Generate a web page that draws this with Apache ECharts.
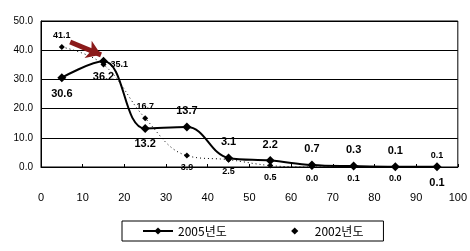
<!DOCTYPE html>
<html>
<head>
<meta charset="utf-8">
<script src="https://cdn.jsdelivr.net/npm/echarts@6/dist/echarts.min.js"></script>
<style>
  html, body { margin: 0; padding: 0; background: #fff; }
  #main { width: 470px; height: 251px; }
</style>
</head>
<body>
<div id="main"></div>
<script>
// x positions (midpoints of each 10-unit bin)
var xs = [5, 15, 25, 35, 45, 55, 65, 75, 85, 95];
var v2005 = [30.6, 36.2, 13.2, 13.7, 3.1, 2.2, 0.7, 0.3, 0.1, 0.1];
var v2002 = [41.1, 35.1, 16.7, 3.9, 2.5, 0.5, 0.0, 0.1, 0.0, 0.1];
var names = ['2005년도', '2002년도'];
var xTicks = [0, 10, 20, 30, 40, 50, 60, 70, 80, 90, 100];

// label placement per point
var pos2005 = ['bottom', 'bottom', 'bottom', 'top', 'top', 'top', 'top', 'top', 'top', 'bottom'];
var pos2002 = ['top', 'right', 'top', 'bottom', 'bottom', 'bottom', 'bottom', 'bottom', 'bottom', 'top'];

function build(vals, pos) {
    return vals.map(function (v, i) {
        return { value: [xs[i], v], label: { position: pos[i] } };
    });
}

var myChart = echarts.init(document.getElementById('main'));

var option = {
    animation: false,
    textStyle: { fontFamily: 'Liberation Sans, Arial, sans-serif' },
    grid: {
        left: 41, right: 12, top: 21, bottom: 84,
        show: true, borderColor: '#000', borderWidth: 1
    },
    legend: {
        left: 122, top: 221,
        padding: [4, 20, 4, 20],
        itemGap: 52,
        itemWidth: 30, itemHeight: 9,
        borderColor: '#000', borderWidth: 1, borderRadius: 0,
        textStyle: { fontSize: 12, color: '#000', fontFamily: 'Noto Sans CJK KR, sans-serif' },
        data: [
            { name: names[0] },
            { name: names[1], lineStyle: { opacity: 0 } }
        ]
    },
    xAxis: {
        type: 'value', min: 0, max: 100, interval: 10,
        axisLine: { lineStyle: { color: '#000', width: 1 } },
        axisTick: { inside: true, length: 3, lineStyle: { color: '#000' } },
        axisLabel: {
            margin: 25, fontSize: 11, color: '#000',
            formatter: function (v) { return xTicks.indexOf(v) >= 0 ? String(v) : ''; }
        },
        splitLine: { show: false }
    },
    yAxis: {
        type: 'value', min: 0, max: 50, interval: 10,
        axisLine: { show: true, lineStyle: { color: '#000' } },
        axisTick: { show: false },
        axisLabel: {
            margin: 8, fontSize: 10, color: '#000',
            formatter: function (v) { return v.toFixed(1); }
        },
        splitLine: { lineStyle: { color: '#000', width: 1 } }
    },
    series: [
        {
            name: names[0],
            type: 'line',
            smooth: 0.4,
            z: 3,
            data: build(v2005, pos2005),
            symbol: 'diamond', symbolSize: 9,
            itemStyle: { color: '#000' },
            lineStyle: { color: '#000', width: 2 },
            label: {
                show: true, fontSize: 11, fontWeight: 'bold', color: '#000', distance: 6,
                formatter: function (p) { return p.value[1].toFixed(1); }
            }
        },
        {
            name: names[1],
            type: 'line',
            smooth: 0.4,
            z: 2,
            data: build(v2002, pos2002),
            symbol: 'diamond', symbolSize: 6,
            itemStyle: { color: '#000' },
            lineStyle: { color: '#000', width: 1, type: [1, 3] },
            label: {
                show: true, fontSize: 9, fontWeight: 'bold', color: '#000', distance: 4,
                formatter: function (p) { return p.value[1].toFixed(1); }
            },
            markLine: {
                silent: true,
                symbol: ['none', 'arrow'],
                symbolSize: 14,
                label: { show: false },
                lineStyle: { color: '#8b1a1a', width: 5, type: 'solid' },
                data: [[{ coord: [7, 42.8] }, { coord: [14.4, 38.4] }]]
            }
        }
    ]
};

myChart.setOption(option);
</script>
</body>
</html>
